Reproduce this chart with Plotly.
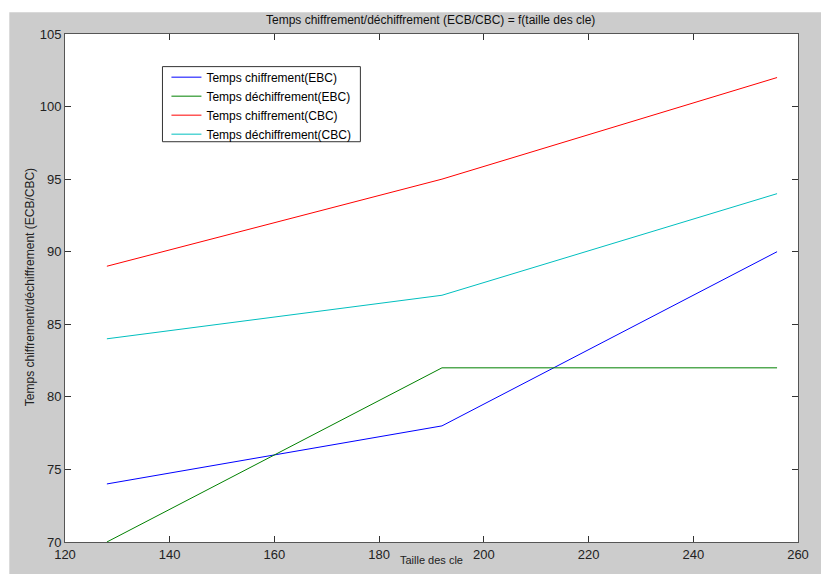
import plotly.graph_objects as go

key_sizes = [128, 192, 256]
enc_ecb = [74, 78, 90]
dec_ecb = [70, 82, 82]
enc_cbc = [89, 95, 102]
dec_cbc = [84, 87, 94]

series_names = ["Temps chiffrement(EBC)", "Temps déchiffrement(EBC)",
                "Temps chiffrement(CBC)", "Temps déchiffrement(CBC)"]
series_vals = [enc_ecb, dec_ecb, enc_cbc, dec_cbc]
colors = ["#0000FF", "#008000", "#FF0000", "#00BFBF"]

x_ticks = [120, 140, 160, 180, 200, 220, 240, 260]
y_ticks = [70, 75, 80, 85, 90, 95, 100, 105]

FONT = "Liberation Sans Narrow, Arial Narrow, Liberation Sans, Arial, sans-serif"
SANS = "Liberation Sans, Arial, sans-serif"

fig = go.Figure()
for name, vals, c in zip(series_names, series_vals, colors):
    fig.add_trace(go.Scatter(x=key_sizes, y=vals, mode="lines", name=name,
                             line=dict(color=c, width=1)))

# plot area in pixels: left 65, right 802, top 34, bottom 548
L, R, T, B = 65, 802, 34, 548
W, H = R - L, B - T

def px(xp):
    return (xp - L) / W

def py(yp):
    return (B - yp) / H

GRAY = "#CCCCCC"
fig.update_layout(
    width=821, height=574,
    margin=dict(l=L, r=821 - R, t=T, b=574 - B),
    paper_bgcolor=GRAY, plot_bgcolor="white",
    font=dict(family=FONT, size=12, color="#222222"),
    showlegend=True,
    legend=dict(x=px(167), y=py(63), xanchor="left", yanchor="top",
                bgcolor="rgba(0,0,0,0)", borderwidth=0,
                font=dict(family=SANS, size=12, color="#000000"),
                itemwidth=30, tracegroupgap=0),
    shapes=[
        dict(type="rect", xref="paper", yref="paper", x0=px(-5), x1=px(830),
             y0=py(12), y1=py(-5), fillcolor="white", line=dict(width=0), layer="below"),
        dict(type="rect", xref="paper", yref="paper", x0=px(-5), x1=px(9),
             y0=py(600), y1=py(-5), fillcolor="white", line=dict(width=0), layer="below"),
        dict(type="rect", xref="paper", yref="paper", x0=px(163), x1=px(362),
             y0=py(143), y1=py(67), fillcolor="white", line=dict(width=1, color="#333333"),
             layer="above"),
    ],
    annotations=[
        dict(text="Temps chiffrement/déchiffrement (ECB/CBC) = f(taille des cle)",
             xref="paper", yref="paper", x=px(432), y=py(20), xanchor="center", yanchor="middle",
             showarrow=False, font=dict(family=FONT, size=12, color="#111111")),
        dict(text="Temps chiffrement/déchiffrement (ECB/CBC)",
             xref="paper", yref="paper", x=px(30), y=py(290), xanchor="center", yanchor="middle",
             textangle=-90, showarrow=False, font=dict(family=SANS, size=12, color="#222222")),
        dict(text="Taille des cle",
             xref="paper", yref="paper", x=px(433), y=py(574), xanchor="center", yanchor="bottom",
             showarrow=False, font=dict(family=SANS, size=11, color="#222222")),
    ],
)
fig.update_xaxes(range=[120, 260], tickvals=x_ticks, ticktext=[str(v) for v in x_ticks],
                 showgrid=False, zeroline=False, showline=True, linecolor="#555555", linewidth=1,
                 mirror="ticks", ticks="inside", ticklen=6, tickcolor="#333333",
                 tickfont=dict(family=FONT, size=13, color="#222222"))
fig.update_yaxes(range=[70, 105], tickvals=y_ticks, ticktext=[str(v) for v in y_ticks],
                 showgrid=False, zeroline=False, showline=True, linecolor="#555555", linewidth=1,
                 mirror="ticks", ticks="inside", ticklen=6, tickcolor="#333333",
                 tickfont=dict(family=FONT, size=13, color="#222222"))

fig.write_html("out.html")
